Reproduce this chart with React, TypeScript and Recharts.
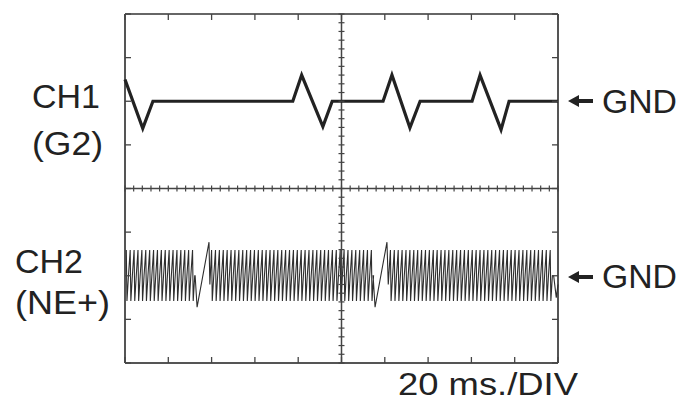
import React from 'react'
import {
  ComposedChart, Line, XAxis, YAxis, Scatter, ReferenceLine,
} from 'recharts'

// time axis in ms (20 ms/DIV, 10 divisions), vertical axis in divisions (8 divisions)
const X_DIVS = [0, 20, 40, 60, 80, 100, 120, 140, 160, 180, 200]
const Y_DIVS = [-4, -3, -2, -1, 0, 1, 2, 3, 4]

// CH1 (G2) trace
const ch1 = [
  { t: 0, v: 2.5 },
  { t: 8.2, v: 1.38 },
  { t: 12.9, v: 2.0 },
  { t: 77.5, v: 2.0 },
  { t: 81.6, v: 2.6 },
  { t: 91.4, v: 1.42 },
  { t: 95.7, v: 2.0 },
  { t: 119.2, v: 2.0 },
  { t: 123.3, v: 2.6 },
  { t: 131.6, v: 1.39 },
  { t: 136.3, v: 2.0 },
  { t: 160.3, v: 2.0 },
  { t: 164.0, v: 2.6 },
  { t: 173.7, v: 1.35 },
  { t: 177.4, v: 2.0 },
  { t: 200, v: 2.0 },
]

// CH2 (NE+) pulse positions (ms) for each of the three bursts
const ch2Burst1 = [0.6, 2.4, 4.2, 6.0, 7.8, 9.6, 11.4, 13.2, 15.0, 16.8, 18.6, 20.4, 22.2, 24.0, 25.8, 27.6, 29.4, 31.2]
const ch2Burst2 = [
  40.0, 41.8, 43.6, 45.4, 47.2, 49.0, 50.8, 52.6, 54.4, 56.2, 58.0, 59.8, 61.6, 63.4,
  65.2, 67.0, 68.8, 70.6, 72.4, 74.2, 76.0, 77.8, 79.6, 81.4, 83.2, 85.0, 86.8, 88.6,
  90.4, 92.2, 94.0, 95.8, 97.6, 99.4, 101.2, 103.0, 104.8, 106.6, 108.4, 110.2, 112.0, 113.8,
]
const ch2Burst3 = [
  122.6, 124.4, 126.2, 128.0, 129.8, 131.6, 133.4, 135.2, 137.0, 138.8, 140.6, 142.4, 144.2, 146.0,
  147.8, 149.6, 151.4, 153.2, 155.0, 156.8, 158.6, 160.4, 162.2, 164.0, 165.8, 167.6, 169.4, 171.2,
  173.0, 174.8, 176.6, 178.4, 180.2, 182.0, 183.8, 185.6, 187.4, 189.2, 191.0, 192.8, 194.6, 196.4,
]
const CH2_HI = -1.41
const CH2_LO = -2.58
const CH2_MID = -2.0
// the slanted edges between bursts
const ch2Glitch1 = [{ t: 32.4, v: -2.0 }, { t: 33.3, v: -2.72 }, { t: 38.8, v: -1.23 }, { t: 39.2, v: -2.2 }]
const ch2Glitch2 = [{ t: 114.6, v: -2.0 }, { t: 115.5, v: -2.72 }, { t: 121.0, v: -1.23 }, { t: 121.6, v: -2.2 }]
const ch2Tail = [{ t: 198.0, v: -2.0 }, { t: 199.2, v: -2.5 }, { t: 200, v: -2.2 }]

// each pulse: sharp rise to the top, drop to the bottom, settle near GND
function pulses(ts: number[]) {
  const out: { t: number; v: number }[] = []
  ts.forEach((t) => {
    out.push({ t, v: CH2_HI })
    out.push({ t: t + 0.3, v: CH2_LO })
    out.push({ t: t + 1.0, v: CH2_MID })
  })
  return out
}

const ch2 = [
  ...pulses(ch2Burst1), ...ch2Glitch1,
  ...pulses(ch2Burst2), ...ch2Glitch2,
  ...pulses(ch2Burst3), ...ch2Tail,
]

// graticule: fine marks on the centre lines (5 per division), coarse marks on the frame
const minorX = Array.from({ length: 51 }, (_, i) => ({ t: i * 4, v: 0 }))
const minorY = Array.from({ length: 41 }, (_, i) => ({ t: 100, v: -4 + i * 0.2 }))
const topMarks = X_DIVS.map((t) => ({ t, v: 4 }))
const bottomMarks = X_DIVS.map((t) => ({ t, v: -4 }))
const leftMarks = Y_DIVS.map((v) => ({ t: 0, v }))
const rightMarks = Y_DIVS.map((v) => ({ t: 200, v }))

const INK = '#444'
const VTick = (p: any) => (
  <line x1={p.cx} x2={p.cx} y1={p.cy - 3} y2={p.cy + 3} stroke={INK} strokeWidth={1.2} />
)
const HTick = (p: any) => (
  <line x1={p.cx - 3} x2={p.cx + 3} y1={p.cy} y2={p.cy} stroke={INK} strokeWidth={1.2} />
)
const DownTick = (p: any) => <line x1={p.cx} x2={p.cx} y1={p.cy} y2={p.cy + 6} stroke={INK} strokeWidth={1.3} />
const UpTick = (p: any) => <line x1={p.cx} x2={p.cx} y1={p.cy} y2={p.cy - 6} stroke={INK} strokeWidth={1.3} />
const RightTick = (p: any) => <line x1={p.cx} x2={p.cx + 6} y1={p.cy} y2={p.cy} stroke={INK} strokeWidth={1.3} />
const LeftTick = (p: any) => <line x1={p.cx} x2={p.cx - 6} y1={p.cy} y2={p.cy} stroke={INK} strokeWidth={1.3} />

const font = '"Liberation Sans", Arial, sans-serif'

function Arrow({ y }: { y: number }) {
  return <path d={`M568 ${y} L579 ${y - 6} L579 ${y - 2} L593 ${y - 2} L593 ${y + 2} L579 ${y + 2} L579 ${y + 6} Z`} fill="#222" />
}

export default function App() {
  return (
    <div style={{ position: 'fixed', left: 0, top: 0, width: 680, height: 401, overflow: 'hidden', background: '#fff' }}>
      <ComposedChart width={680} height={401} margin={{ top: 14, right: 122, bottom: 38, left: 125 }}>
        <XAxis xAxisId="b" dataKey="t" type="number" domain={[0, 200]} ticks={X_DIVS} hide />
        <YAxis yAxisId="l" dataKey="v" type="number" domain={[-4, 4]} ticks={Y_DIVS} hide />
        {/* frame */}
        <ReferenceLine xAxisId="b" yAxisId="l" x={0} stroke="#555" strokeWidth={2} />
        <ReferenceLine xAxisId="b" yAxisId="l" x={200} stroke="#555" strokeWidth={2} />
        <ReferenceLine xAxisId="b" yAxisId="l" y={4} stroke="#666" strokeWidth={2} />
        <ReferenceLine xAxisId="b" yAxisId="l" y={-4} stroke="#555" strokeWidth={2} />
        {/* centre cross */}
        <ReferenceLine xAxisId="b" yAxisId="l" x={100} stroke={INK} strokeWidth={1.5} />
        <ReferenceLine xAxisId="b" yAxisId="l" y={0} stroke={INK} strokeWidth={1.5} />
        <Scatter xAxisId="b" yAxisId="l" data={minorX} dataKey="v" shape={VTick} isAnimationActive={false} />
        <Scatter xAxisId="b" yAxisId="l" data={minorY} dataKey="v" shape={HTick} isAnimationActive={false} />
        <Scatter xAxisId="b" yAxisId="l" data={topMarks} dataKey="v" shape={DownTick} isAnimationActive={false} />
        <Scatter xAxisId="b" yAxisId="l" data={bottomMarks} dataKey="v" shape={UpTick} isAnimationActive={false} />
        <Scatter xAxisId="b" yAxisId="l" data={leftMarks} dataKey="v" shape={RightTick} isAnimationActive={false} />
        <Scatter xAxisId="b" yAxisId="l" data={rightMarks} dataKey="v" shape={LeftTick} isAnimationActive={false} />
        <Line xAxisId="b" yAxisId="l" data={ch2} dataKey="v" type="linear" stroke="#2e2e2e" strokeWidth={1.1}
          dot={false} isAnimationActive={false} />
        <Line xAxisId="b" yAxisId="l" data={ch1} dataKey="v" type="linear" stroke="#222" strokeWidth={3.2}
          strokeLinejoin="miter" dot={false} isAnimationActive={false} />
      </ComposedChart>
      <svg width={680} height={401} style={{ position: 'absolute', left: 0, top: 0, pointerEvents: 'none' }}>
        <g fill="#222" fontFamily={font} fontSize={33}>
          <text x={32} y={108} textLength={68} lengthAdjust="spacingAndGlyphs">CH1</text>
          <text x={32} y={155} textLength={71} lengthAdjust="spacingAndGlyphs">(G2)</text>
          <text x={15} y={273} textLength={68} lengthAdjust="spacingAndGlyphs">CH2</text>
          <text x={15} y={314} textLength={95} lengthAdjust="spacingAndGlyphs">(NE+)</text>
          <text x={602} y={113} textLength={75} lengthAdjust="spacingAndGlyphs">GND</text>
          <text x={602} y={288} textLength={75} lengthAdjust="spacingAndGlyphs">GND</text>
          <text x={398} y={395} fontSize={31} textLength={180} lengthAdjust="spacingAndGlyphs">20 ms./DIV</text>
        </g>
        <Arrow y={101} />
        <Arrow y={277} />
      </svg>
    </div>
  )
}
